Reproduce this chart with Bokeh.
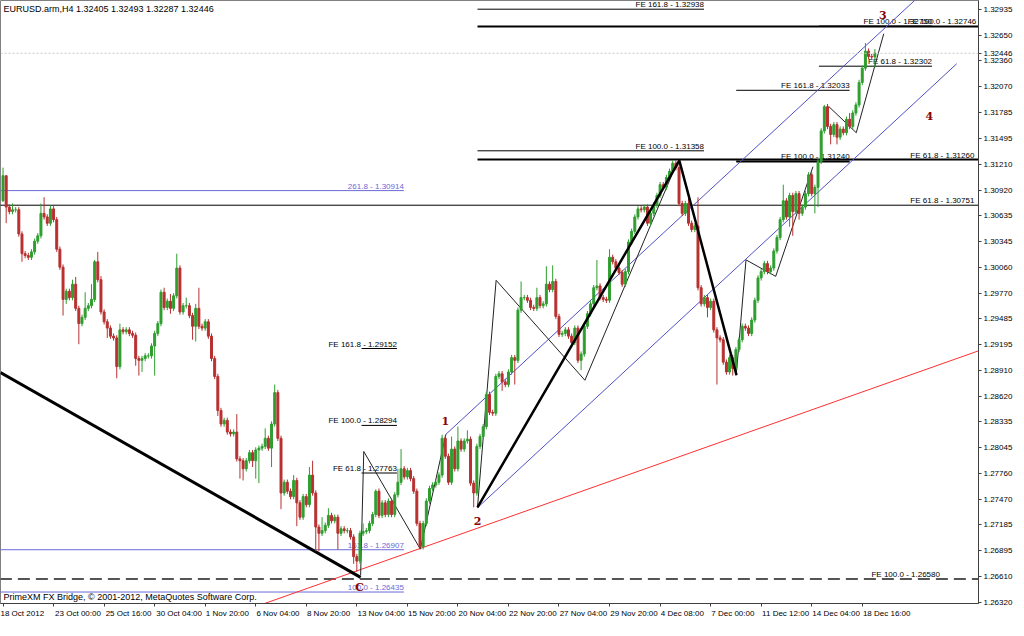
import numpy as np
from bokeh.plotting import figure
from bokeh.models import (ColumnDataSource, FixedTicker, PrintfTickFormatter,
                          Range1d, Span, Label)
from bokeh.core.properties import value
from bokeh.embed import file_html
from bokeh.resources import INLINE

# ---------------- data ----------------
symbol = "EURUSD.arm,H4"
base_price = 1.26
pip = 0.0001
first_open = 480  # pips above base

close_pips = [
    508, 473, 468, 470, 470, 443, 421, 419, 417, 423,
    435, 441, 466, 462, 455, 471, 459, 426, 406, 370,
    379, 372, 387, 360, 343, 350, 360, 363, 370, 412,
    392, 356, 345, 338, 329, 327, 295, 336, 334, 336,
    332, 330, 304, 302, 304, 307, 307, 318, 332, 343,
    378, 361, 368, 360, 374, 405, 356, 363, 363, 352,
    340, 360, 340, 338, 345, 329, 304, 284, 246, 231,
    235, 222, 220, 222, 192, 190, 181, 190, 199, 190,
    202, 204, 206, 215, 204, 231, 266, 215, 154, 166,
    156, 150, 168, 143, 127, 150, 141, 174, 154, 116,
    109, 112, 118, 129, 123, 127, 109, 114, 112, 112,
    105, 83, 78, 109, 111, 112, 120, 130, 156, 129,
    143, 130, 145, 130, 152, 166, 181, 172, 179, 170,
    156, 120, 94, 120, 145, 159, 163, 166, 174, 215,
    195, 166, 203, 181, 212, 203, 212, 214, 165, 154,
    206, 217, 228, 264, 244, 243, 284, 287, 278, 275,
    289, 305, 302, 358, 372, 372, 369, 361, 360, 372,
    363, 365, 387, 381, 390, 351, 331, 332, 336, 329,
    322, 338, 302, 309, 340, 354, 365, 383, 385, 372,
    370, 369, 417, 412, 405, 400, 387, 401, 434, 446,
    462, 471, 470, 473, 455, 466, 475, 486, 498, 495,
    506, 513, 522, 517, 477, 466, 477, 455, 448, 452,
    383, 365, 372, 361, 368, 336, 327, 325, 300, 289,
    305, 293, 314, 325, 340, 338, 332, 347, 369, 394,
    401, 410, 401, 405, 424, 439, 459, 480, 462, 486,
    468, 488, 466, 473, 488, 509, 488, 495, 524, 558,
    585, 563, 554, 565, 551, 560, 556, 571, 563, 578,
    587, 612, 628, 647, 641, 640.5, 644.6,
]
upper_wick = [
    9, 0, 3, 7, 3, 3, 3, 3, 3, 3,
    3, 3, 11, 18, 3, 4, 3, 3, 3, 3,
    3, 3, 5, 8, 3, 3, 18, 3, 17, 2,
    11, 4, 3, 3, 3, 3, 3, 7, 3, 3,
    3, 3, 3, 3, 3, 3, 3, 3, 3, 3,
    3, 5, 3, 8, 3, 16, 3, 3, 9, 3,
    3, 5, 23, 3, 3, 3, 3, 3, 3, 3,
    3, 3, 3, 3, 20, 3, 3, 3, 3, 3,
    3, 3, 3, 11, 3, 3, 9, 3, 3, 3,
    3, 3, 6, 3, 3, 3, 3, 9, 16, 3,
    3, 15, 3, 8, 3, 3, 3, 3, 3, 3,
    3, 3, 3, 3, 9, 3, 3, 3, 2, 3,
    3, 3, 3, 3, 3, 15, 22, 3, 3, 3,
    3, 3, 3, 3, 3, 3, 3, 3, 3, 4,
    3, 3, 14, 3, 16, 3, 3, 10, 3, 3,
    3, 3, 3, 3, 3, 3, 3, 3, 3, 3,
    3, 3, 3, 3, 18, 3, 3, 3, 3, 11,
    3, 3, 20, 3, 18, 3, 3, 3, 3, 3,
    3, 3, 3, 3, 3, 3, 3, 3, 29, 3,
    3, 3, 9, 3, 3, 3, 3, 3, 3, 3,
    3, 3, 3, 3, 3, 3, 3, 3, 3, 3,
    3, 3, 3, 3, 3, 3, 3, 7, 3, 3,
    32, 3, 3, 3, 3, 3, 3, 3, 3, 3,
    3, 3, 3, 3, 3, 3, 3, 3, 3, 3,
    3, 3, 3, 3, 3, 3, 3, 18, 3, 3,
    3, 3, 3, 3, 3, 3, 3, 3, 3, 3,
    2, 3, 3, 3, 3, 3, 3, 3, 7, 3,
    3, 3, 3, 9, 3, 3, 4.7,
]
lower_wick = [
    1, 18, 3, 3, 3, 3, 9, 3, 3, 3,
    3, 3, 3, 3, 3, 3, 3, 3, 3, 18,
    5, 3, 3, 3, 23, 3, 3, 3, 3, 3,
    3, 3, 3, 11, 3, 3, 13, 3, 3, 3,
    3, 3, 8, 17, 13, 3, 3, 3, 33, 3,
    3, 3, 3, 6, 3, 3, 3, 3, 3, 3,
    15, 17, 3, 3, 3, 3, 3, 3, 6, 3,
    3, 3, 3, 3, 3, 20, 13, 3, 3, 7,
    20, 37, 3, 3, 3, 21, 3, 3, 18, 3,
    3, 3, 3, 26, 3, 3, 3, 3, 3, 27,
    20, 3, 3, 3, 3, 3, 18, 3, 3, 3,
    3, 8, 12, 3, 3, 3, 3, 3, 3, 3,
    3, 3, 3, 3, 3, 3, 3, 3, 3, 3,
    3, 3, 3, 3, 3, 3, 3, 3, 3, 3,
    3, 3, 3, 3, 3, 3, 3, 3, 3, 16,
    3, 3, 3, 3, 3, 3, 3, 3, 10, 3,
    3, 3, 27, 3, 3, 3, 3, 3, 3, 3,
    3, 3, 3, 3, 3, 3, 3, 3, 3, 3,
    3, 3, 3, 11, 3, 3, 3, 3, 3, 3,
    3, 3, 3, 3, 3, 3, 3, 3, 3, 3,
    3, 3, 3, 3, 3, 3, 3, 3, 3, 3,
    3, 3, 3, 3, 3, 3, 3, 3, 3, 3,
    3, 3, 3, 11, 3, 3, 52, 3, 3, 3,
    3, 8, 3, 3, 3, 3, 3, 3, 3, 3,
    3, 3, 3, 3, 3, 3, 3, 3, 3, 11,
    27, 3, 7, 3, 3, 3, 3, 22, 22, 3,
    3, 3, 11, 3, 8, 3, 3, 3, 3, 3,
    3, 3, 3, 3, 3, 3, 11.8,
]

time_labels = ["18 Oct 2012", "23 Oct 00:00", "25 Oct 16:00", "30 Oct 04:00",
               "1 Nov 20:00", "6 Nov 04:00", "8 Nov 20:00", "13 Nov 04:00",
               "15 Nov 20:00", "20 Nov 04:00", "22 Nov 20:00", "27 Nov 04:00",
               "29 Nov 20:00", "4 Dec 08:00", "7 Dec 00:00", "11 Dec 12:00",
               "14 Dec 04:00", "18 Dec 16:00"]
bars_per_label = 16

price_ticks = [1.32935, 1.32650, 1.32360, 1.32070, 1.31785, 1.31495, 1.31210,
               1.30920, 1.30635, 1.30345, 1.30060, 1.29770, 1.29485, 1.29195,
               1.28910, 1.28620, 1.28335, 1.28045, 1.27760, 1.27470, 1.27185,
               1.26895, 1.26610, 1.26320]

# Fibonacci expansion levels (name, price, bar start, bar end, label end)
fe_names = ["FE 161.8", "FE 100.0", "FE 61.8", "FE 61.8", "FE 100.0", "FE 161.8",
            "FE 61.8", "FE 100.0", "FE 100.0", "FE 161.8", "FE 100.0", "FE 61.8",
            "FE 100.0"]
fe_prices = [1.32938, 1.31358, 1.31260, 1.30751, 1.31240, 1.32033,
             1.32302, 1.32750, 1.32746, 1.29152, 1.28294, 1.27763, 1.26580]
fe_start = [150.2, 150.2, 150.2, -1, 232.1, 232.1, 258.3, 258.3, 150.2,
            113.5, 113.5, 113.5, -1]
fe_end = [221.9, 221.9, 310, 310, 268, 268, 294.1, 294.1, 310,
          124.7, 124.7, 124.7, 310]
fe_label_end = [221.9, 221.9, 307.5, 307.5, 268, 268, 294.1, 294.1, 308.1,
                124.7, 124.7, 124.7, 296.6]
fe_width = [1, 1, 2, 1, 2, 1, 1, 1, 2, 1, 1, 1, 2]
fe_dashed = [False] * 12 + [True]

# Fibonacci retracement (blue)
fib_names = ["261.8", "161.8", "100.0"]
fib_prices = [1.30914, 1.26907, 1.26435]
fib_start = [-1, -1, -1]
fib_end = [126.9, 126.9, 126.9]

# trend lines (bar index, price)
down_trend_x = [-0.8, 113.2]
down_trend_y = [1.28885, 1.26599]
red_trend_x = [80, 310]
red_trend_y = [1.26272, 1.29141]
channel_up_x = [140.2, 300]
channel_up_y = [1.28195, 1.33408]
channel_lo_x = [150.2, 301.9]
channel_lo_y = [1.27376, 1.32329]
wave_thick_x = [150.2, 214.1, 232.2]
wave_thick_y = [1.27379, 1.31249, 1.28855]
zig_x = [[113.2, 114.2, 132.1, 140.2], [150.2, 156.1, 184.2, 213.5],
         [232.1, 235.2, 244.6, 256.4], [261.4, 270.1, 278.8]]
zig_y = [[1.26621, 1.28003, 1.26914, 1.28195], [1.27379, 1.29913, 1.28798, 1.31235],
         [1.28852, 1.30141, 1.29957, 1.31181], [1.31852, 1.31560, 1.32664]]

wave_text = ["C", "1", "2", "3", "4"]
wave_x = [112.9, 140.0, 150.2, 278.5, 293.2]
wave_y = [1.26483, 1.28341, 1.27228, 1.32870, 1.31744]

# ---------------- derived ----------------
n = len(close_pips)
cp = np.array(close_pips, dtype=float)
op = np.concatenate([[first_open], cp[:-1]])
hi = np.maximum(op, cp) + np.array(upper_wick, dtype=float)
lo = np.minimum(op, cp) - np.array(lower_wick, dtype=float)
to_price = lambda a: base_price + a * pip
bull = cp >= op
colors = np.where(bull, "#2f9e2f", "#b83030")
src = ColumnDataSource(dict(
    x=np.arange(n), top=to_price(np.maximum(op, cp)), bottom=to_price(np.minimum(op, cp)),
    high=to_price(hi), low=to_price(lo), color=colors))

x_lo, x_hi = -0.8, 308.8
y_lo, y_hi = 1.26307, 1.33035
FRAME_W, FRAME_H = 978, 603

p = figure(frame_width=FRAME_W, frame_height=FRAME_H, output_backend="svg",
           toolbar_location=None,
           x_range=Range1d(x_lo, x_hi), y_range=Range1d(y_lo, y_hi),
           y_axis_location="right", min_border_left=0, min_border_top=0,
           min_border_right=0, min_border_bottom=0)
p.background_fill_color = "white"
p.border_fill_color = "white"
p.outline_line_color = "#808080"
p.grid.visible = False

FONT = value("Liberation Sans")

# axes ------------------------------------------------------------
last_close = to_price(cp[-1])
y_ticks = price_ticks + [round(float(last_close), 5)]
p.yaxis.ticker = FixedTicker(ticks=y_ticks)
p.yaxis.formatter = PrintfTickFormatter(format="%.5f")

# MT4 writes time labels to the right of their tick: pad the left side
# with no-break spaces so that the centred label starts at the tick.
_w = {**{d: 556 for d in "0123456789"}, " ": 278, ":": 278, "O": 778, "c": 500,
      "t": 278, "N": 722, "o": 556, "v": 500, "D": 722, "e": 556}
def _pad(s):
    k = int(round(sum(_w.get(ch, 556) for ch in s) / 278.0)) + 1
    return "\u00a0" * k + s

tick_pos = [k * bars_per_label for k in range(len(time_labels))]
p.xaxis.ticker = FixedTicker(ticks=tick_pos)
p.xaxis.major_label_overrides = {t: (_pad(lab) if t > 0 else lab)
                                 for t, lab in zip(tick_pos, time_labels)}
for ax in (p.xaxis[0], p.yaxis[0]):
    ax.major_label_text_font = "Liberation Sans"
    ax.major_label_text_font_size = "8px"
    ax.major_label_text_color = "black"
    ax.axis_line_color = "#404040"
    ax.major_tick_line_color = "#404040"
    ax.minor_tick_line_color = None
    ax.major_tick_in = 0
    ax.major_tick_out = 3
    ax.major_label_standoff = 2

# bid line
p.add_layout(Span(location=last_close, dimension="width", line_color="#c8c8c8",
                  line_dash="2 2", line_width=1))

# blue retracement levels
for i in range(len(fib_names)):
    p.line([fib_start[i], fib_end[i]], [fib_prices[i]] * 2, line_color="#6a6ad8", line_width=1)
p.text(x=fib_end, y=fib_prices,
       text=[f"{nm} - {pr:.5f}" for nm, pr in zip(fib_names, fib_prices)],
       text_align="right", text_baseline="bottom", text_font=FONT,
       text_font_size="8px", text_color="#6a6ad8")

# expansion levels
for i in range(len(fe_names)):
    d = fe_dashed[i]
    p.line([fe_start[i], fe_end[i]], [fe_prices[i]] * 2,
           line_color="#555555" if d else "black",
           line_width=fe_width[i], line_dash="12 6" if d else "solid")
p.text(x=fe_label_end, y=fe_prices,
       text=[f"{nm} - {pr:.5f}" for nm, pr in zip(fe_names, fe_prices)],
       text_align="right", text_baseline="bottom", text_font=FONT,
       text_font_size="8px", text_color="black")

# trend lines
p.line(red_trend_x, red_trend_y, line_color="#ff3030", line_width=1)
p.line(channel_up_x, channel_up_y, line_color="#5050c8", line_width=1)
p.line(channel_lo_x, channel_lo_y, line_color="#5050c8", line_width=1)
p.line(down_trend_x, down_trend_y, line_color="black", line_width=3)
for zx, zy in zip(zig_x, zig_y):
    p.line(zx, zy, line_color="#222222", line_width=1)

# candles
p.segment(x0="x", y0="low", x1="x", y1="high", color="color", line_width=1, source=src)
p.vbar(x="x", width=0.62, top="top", bottom="bottom", fill_color="color",
       line_color="color", source=src)

p.line(wave_thick_x, wave_thick_y, line_color="black", line_width=2.5)

# wave labels
p.text(x=wave_x, y=wave_y, text=wave_text, text_align="center", text_baseline="middle",
       text_font=value("DejaVu Serif"), text_font_style="bold", text_font_size="11px",
       text_color="#8b0000")

# title / copyright
o, h, l, c = to_price(op[-1]), to_price(hi[-1]), to_price(lo[-1]), to_price(cp[-1])
p.add_layout(Label(x=3, y=y_hi, x_units="screen", y_offset=-3, text_baseline="top",
                   text=f"{symbol}  {o:.5f} {h:.5f} {l:.5f} {c:.5f}",
                   text_font="Liberation Sans", text_font_size="9px", text_color="black"))
p.add_layout(Label(x=3, y=y_lo, x_units="screen", y_offset=2, text_baseline="bottom",
                   text="PrimeXM FX Bridge, \u00a9 2001-2012, MetaQuotes Software Corp.",
                   text_font="Liberation Sans", text_font_size="9px", text_color="black"))

open("out.html", "w").write(file_html(p, INLINE))
